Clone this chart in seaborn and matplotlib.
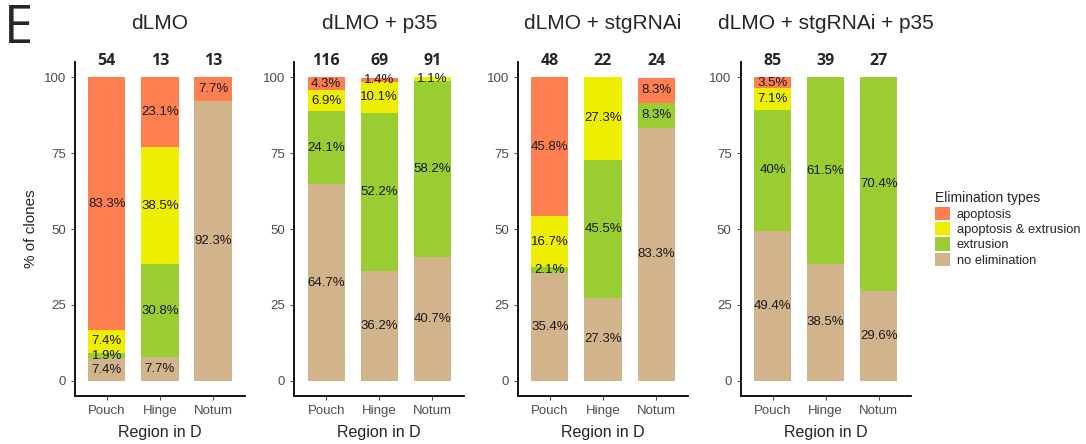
import numpy as np
import pandas as pd
import seaborn as sns
import matplotlib
matplotlib.use("Agg")
from matplotlib import pyplot as plt
from matplotlib.patches import Patch

# percentages per region, stacked bottom -> top: no elimination, extrusion, apoptosis & extrusion, apoptosis
panels = ["dLMO", "dLMO + p35", "dLMO + stgRNAi", "dLMO + stgRNAi + p35"]
regions = ["Pouch", "Hinge", "Notum"]
types = ["apoptosis", "apoptosis & extrusion", "extrusion", "no elimination"]
colors = ["#FF7F50", "#EEEE00", "#9ACD32", "#D2B48C"]

no_elim = [[7.4, 7.7, 92.3], [64.7, 36.2, 40.7], [35.4, 27.3, 83.3], [49.4, 38.5, 29.6]]
extrusion = [[1.9, 30.8, 0], [24.1, 52.2, 58.2], [2.1, 45.5, 8.3], [40.0, 61.5, 70.4]]
apo_ext = [[7.4, 38.5, 0], [6.9, 10.1, 1.1], [16.7, 27.3, 0], [7.1, 0, 0]]
apoptosis = [[83.3, 23.1, 7.7], [4.3, 1.4, 0], [45.8, 0, 8.3], [3.5, 0, 0]]
counts = [[54, 13, 13], [116, 69, 91], [48, 22, 24], [85, 39, 27]]

sns.set_style("white")
plt.rcParams["font.family"] = ["Liberation Sans", "DejaVu Sans"]

fig = plt.figure(figsize=(10.86, 4.44), dpi=100)
lefts = [0.069, 0.271, 0.477, 0.682]

for i, name in enumerate(panels):
    ax = fig.add_axes([lefts[i], 0.108, 0.1565, 0.752])
    layers = [no_elim[i], extrusion[i], apo_ext[i], apoptosis[i]]
    layer_cols = [colors[3], colors[2], colors[1], colors[0]]
    cum = np.cumsum(np.array(layers), axis=0)
    # draw from the top of the stack down so lower layers cover upper ones
    for k in range(3, -1, -1):
        df = pd.DataFrame({"region": regions, "pct": cum[k]})
        sns.barplot(data=df, x="region", y="pct", color=layer_cols[k], saturation=1,
                    width=0.7, linewidth=0, ax=ax, order=regions)
    for k in range(4):
        for j in range(3):
            v = layers[k][j]
            if v > 0:
                mid = cum[k][j] - v / 2
                ax.text(j, mid, f"{v:g}%", ha="center", va="center", fontsize=9.5, color="#1a1a1a")
    for j in range(3):
        ax.text(j, 105.3, str(counts[i][j]), ha="center", va="center", fontsize=11.5,
                fontweight="bold", family="Open Sans", clip_on=False)
    ax.set_xlim(-0.6, 2.6)
    ax.set_ylim(-5, 105)
    ax.set_yticks([0, 25, 50, 75, 100])
    ax.tick_params(axis="both", colors="#4D4D4D", labelsize=9.5, length=3, width=0.8,
                   direction="out", bottom=True, left=True)
    for s in ["top", "right"]:
        ax.spines[s].set_visible(False)
    for s in ["left", "bottom"]:
        ax.spines[s].set_color("black")
        ax.spines[s].set_linewidth(1.3)
    ax.set_xlabel("Region in D", fontsize=11.5, labelpad=6)
    ax.set_ylabel("% of clones" if i == 0 else "", fontsize=11)
    ax.set_title(name, fontsize=15, pad=24)

handles = [Patch(facecolor=c, edgecolor="none") for c in colors]
fig.legend(handles, types, title="Elimination types", loc="upper left",
           bbox_to_anchor=(0.850, 0.595), frameon=False, fontsize=9.3, title_fontsize=10,
           handlelength=1.2, handleheight=1.2, handletextpad=0.5, labelspacing=0.1,
           alignment="left")

fig.text(0.004, 0.995, "E", fontsize=38, family="Open Sans", ha="left", va="top")

fig.savefig("out.png", dpi=100)
